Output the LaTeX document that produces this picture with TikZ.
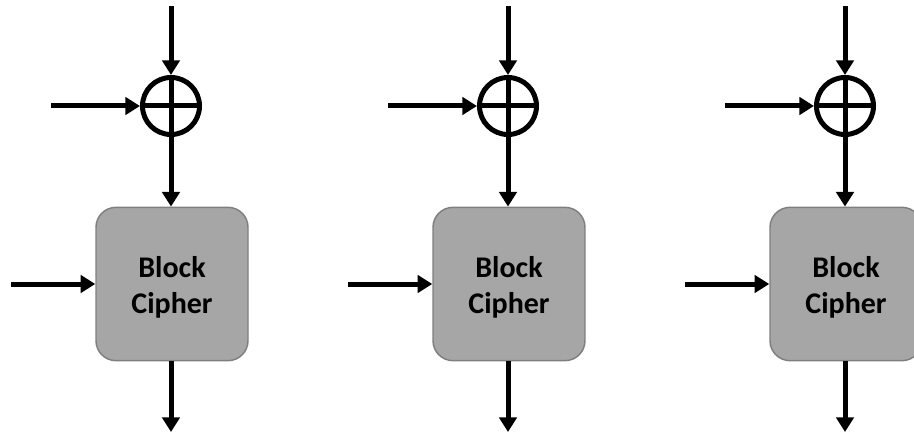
\documentclass[tikz,border=0pt]{standalone}
\usepackage{fontspec}
\setmainfont{Carlito}
\usetikzlibrary{arrows.meta}
\definecolor{boxfill}{HTML}{A6A6A6}
\definecolor{boxline}{HTML}{7F7F7F}
\begin{document}
\begin{tikzpicture}[x=0.75pt,y=-0.75pt,
  wire/.style={line width=3.75pt,-{Triangle[length=11pt,width=13pt]}},
  plain/.style={line width=3.75pt},
  xorc/.style={circle,draw,line width=3.75pt,minimum size=42.75pt,inner sep=0pt},
  cipher/.style={rectangle,rounded corners=15pt,draw=boxline,line width=1.1pt,fill=boxfill,
    minimum width=114pt,minimum height=115pt},
  ciphertext/.style={align=center,inner sep=0pt,font=\bfseries\fontsize{22.5}{27}\selectfont}]
\useasboundingbox (0,0) rectangle (914,435);
\clip (0,0) rectangle (914,435);
\foreach \i/\cx in {1/171,2/508,3/845}{
  \node[xorc] (x\i) at (\cx,106) {};
  \draw[plain] (x\i.west) -- (x\i.east);
  \draw[plain] (x\i.north) -- (x\i.south);
  \coordinate (t\i) at (\cx,6);
  \coordinate (l\i) at (\cx-120,106);
  \node[cipher] (b\i) at (\cx+1,284) {};
  \node[ciphertext] (bt\i) at (\cx+1,287) {Block\\Cipher};
  \coordinate (k\i) at (\cx-160,284);
  \coordinate (o\i) at (\cx,432);
  \draw[wire] (t\i) -- (x\i.north);
  \draw[wire] (l\i) -- (x\i.west);
  \draw[wire] (x\i.south) -- (b\i.north -| x\i.south);
  \draw[wire] (k\i) -- (b\i.west);
  \draw[wire] (b\i.south -| o\i) -- (o\i);
}
\end{tikzpicture}
\end{document}
